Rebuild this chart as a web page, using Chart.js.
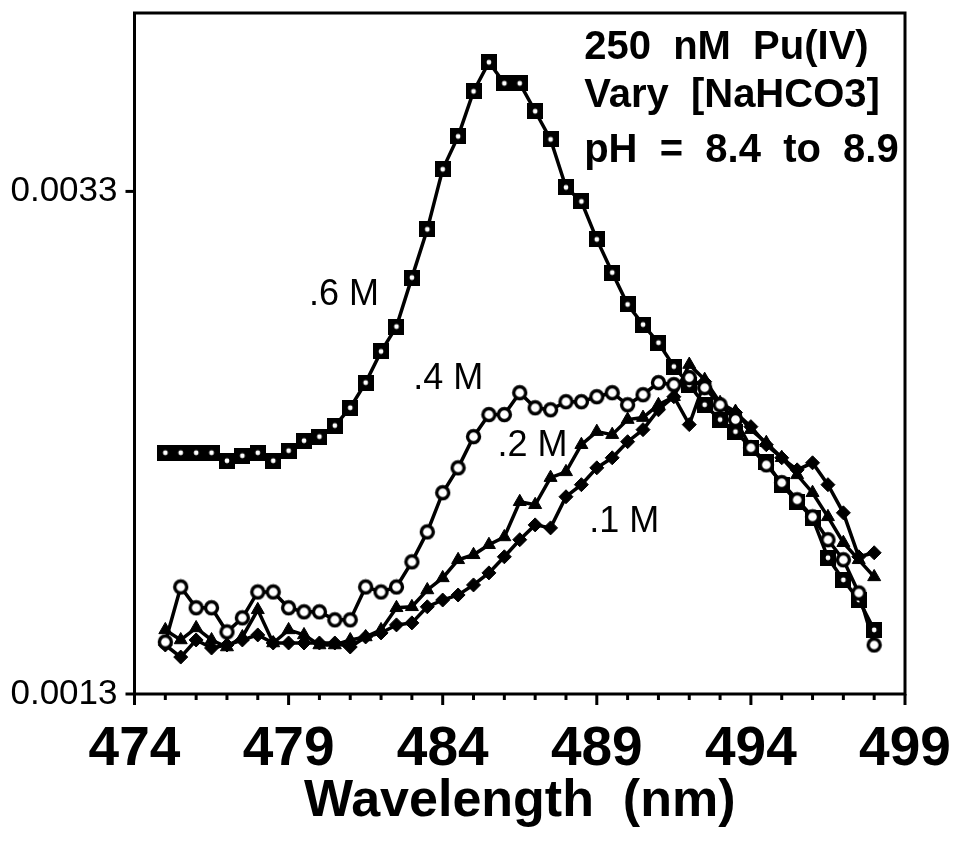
<!DOCTYPE html>
<html>
<head>
<meta charset="utf-8">
<script src="https://cdn.jsdelivr.net/npm/chart.js@4.4.1/dist/chart.umd.min.js"></script>
<style>
  html, body { margin: 0; padding: 0; background: #fff; }
  #chart { display: block; }
</style>
</head>
<body>
<canvas id="chart" width="953" height="841"></canvas>
<script>
// wavelength grid (nm)
const wavelengths = [475, 475.5, 476, 476.5, 477, 477.5, 478, 478.5, 479, 479.5,
    480, 480.5, 481, 481.5, 482, 482.5, 483, 483.5, 484, 484.5,
    485, 485.5, 486, 486.5, 487, 487.5, 488, 488.5, 489, 489.5,
    490, 490.5, 491, 491.5, 492, 492.5, 493, 493.5, 494, 494.5,
    495, 495.5, 496, 496.5, 497, 497.5, 498];

// absorbance for each NaHCO3 concentration
const naHCO3_06 = [0.002260, 0.002260, 0.002260, 0.002260, 0.002228, 0.002248, 0.002260, 0.002228, 0.002268, 0.002308,
    0.002324, 0.002368, 0.002439, 0.002539, 0.002663, 0.002762, 0.002957, 0.003149, 0.003388, 0.003519,
    0.003698, 0.003814, 0.003730, 0.003730, 0.003619, 0.003507, 0.003316, 0.003260, 0.003109, 0.002977,
    0.002850, 0.002770, 0.002698, 0.002603, 0.002531, 0.002451, 0.002392, 0.002344, 0.002280, 0.002224,
    0.002133, 0.002065, 0.002001, 0.001842, 0.001754, 0.001674, 0.001555];
const naHCO3_04 = [0.001507, 0.001726, 0.001643, 0.001643, 0.001547, 0.001603, 0.001706, 0.001706, 0.001643, 0.001627,
    0.001627, 0.001595, 0.001595, 0.001726, 0.001706, 0.001726, 0.001826, 0.001945, 0.002101, 0.002200,
    0.002324, 0.002412, 0.002412, 0.002499, 0.002439, 0.002431, 0.002463, 0.002463, 0.002483, 0.002499,
    0.002451, 0.002491, 0.002539, 0.002531, 0.002559, 0.002519, 0.002451, 0.002392, 0.002280, 0.002212,
    0.002141, 0.002073, 0.002005, 0.001914, 0.001834, 0.001702, 0.001495];
const naHCO3_02 = [0.001555, 0.001515, 0.001563, 0.001515, 0.001487, 0.001527, 0.001635, 0.001503, 0.001555, 0.001535,
    0.001495, 0.001495, 0.001515, 0.001527, 0.001555, 0.001643, 0.001647, 0.001714, 0.001762, 0.001834,
    0.001854, 0.001894, 0.001925, 0.002065, 0.002053, 0.002161, 0.002184, 0.002292, 0.002344, 0.002332,
    0.002392, 0.002400, 0.002451, 0.002483, 0.002611, 0.002551, 0.002459, 0.002424, 0.002352, 0.002300,
    0.002240, 0.002172, 0.002101, 0.002005, 0.001902, 0.001834, 0.001766];
const naHCO3_01 = [0.001495, 0.001447, 0.001515, 0.001483, 0.001495, 0.001515, 0.001535, 0.001503, 0.001503, 0.001503,
    0.001503, 0.001503, 0.001487, 0.001527, 0.001543, 0.001575, 0.001583, 0.001647, 0.001674, 0.001694,
    0.001734, 0.001782, 0.001846, 0.001914, 0.001973, 0.001961, 0.002085, 0.002133, 0.002200, 0.002240,
    0.002304, 0.002352, 0.002431, 0.002483, 0.002372, 0.002543, 0.002451, 0.002420, 0.002364, 0.002292,
    0.002240, 0.002192, 0.002220, 0.002133, 0.002021, 0.001846, 0.001862];

const xTickLabels = [474, 479, 484, 489, 494, 499];
const yTickLabels = [0.0013, 0.0033];
const seriesLabels = [".6 M", ".4 M", ".2 M", ".1 M"];
const noteLines = ["250  nM  Pu(IV)", "Vary  [NaHCO3]", "pH  =  8.4  to  8.9"];

const FONT = "'Liberation Sans', Arial, Helvetica, sans-serif";

// marker images
function squareMarker() {
    const c = document.createElement("canvas");
    c.width = 16; c.height = 16;
    const g = c.getContext("2d");
    g.fillStyle = "#000";
    g.fillRect(0, 0, 16, 16);
    g.fillStyle = "#fff";
    g.beginPath(); g.arc(8, 8, 2.4, 0, Math.PI * 2); g.fill();
    return c;
}
function circleMarker() {
    const c = document.createElement("canvas");
    c.width = 17; c.height = 17;
    const g = c.getContext("2d");
    g.fillStyle = "#fff";
    g.strokeStyle = "#000";
    g.lineWidth = 3.4;
    g.beginPath(); g.arc(8.5, 8.5, 6, 0, Math.PI * 2); g.fill(); g.stroke();
    return c;
}

function pts(arr) {
    return arr.map((v, i) => ({ x: wavelengths[i], y: v }));
}

function series(label, values, style, radius) {
    return {
        label: label,
        data: pts(values),
        borderColor: "#000",
        borderWidth: 3.5,
        backgroundColor: "#000",
        pointBackgroundColor: "#000",
        pointBorderColor: "#000",
        pointBorderWidth: 1,
        pointStyle: style,
        pointRadius: radius,
        tension: 0,
        clip: false
    };
}

// frame, tick marks and text notes
const decorations = {
    id: "decorations",
    afterDraw(chart) {
        const ctx = chart.ctx;
        const a = chart.chartArea;
        const xs = chart.scales.x, ys = chart.scales.y;
        ctx.save();
        ctx.strokeStyle = "#000";
        ctx.lineWidth = 3;
        ctx.strokeRect(a.left, a.top, a.right - a.left, a.bottom - a.top);

        for (let w = 474; w <= 499; w++) {
            const px = xs.getPixelForValue(w);
            const len = xTickLabels.includes(w) ? 11 : 6;
            ctx.beginPath();
            ctx.moveTo(px, a.bottom);
            ctx.lineTo(px, a.bottom + len);
            ctx.stroke();
        }
        yTickLabels.forEach(v => {
            const py = ys.getPixelForValue(v);
            ctx.beginPath();
            ctx.moveTo(a.left, py);
            ctx.lineTo(a.left - 9, py);
            ctx.stroke();
        });

        ctx.fillStyle = "#000";
        ctx.textBaseline = "middle";
        ctx.textAlign = "center";
        ctx.font = "36px " + FONT;
        const labelPos = [[480.8, 0.002886], [484.18, 0.002555], [486.91, 0.002288], [489.89, 0.001985]];
        seriesLabels.forEach((t, i) => {
            ctx.fillText(t, xs.getPixelForValue(labelPos[i][0]), ys.getPixelForValue(labelPos[i][1]));
        });

        ctx.textAlign = "left";
        ctx.font = "bold 40px " + FONT;
        const noteY = [0.003870, 0.003680, 0.003462];
        noteLines.forEach((t, i) => {
            ctx.fillText(t, xs.getPixelForValue(488.59), ys.getPixelForValue(noteY[i]));
        });
        ctx.restore();
    }
};

new Chart(document.getElementById("chart"), {
    type: "line",
    data: {
        datasets: [
            series(".4 M", naHCO3_04, circleMarker(), 8.5),
            series(".6 M", naHCO3_06, squareMarker(), 8),
            series(".2 M", naHCO3_02, "triangle", 7.5),
            series(".1 M", naHCO3_01, "rectRot", 7)
        ]
    },
    options: {
        responsive: false,
        animation: false,
        devicePixelRatio: 1,
        layout: { padding: { left: 0, top: 13, right: 48, bottom: 0 } },
        plugins: { legend: { display: false }, tooltip: { enabled: false } },
        scales: {
            x: {
                type: "linear",
                min: 474,
                max: 499,
                grid: { display: false, drawTicks: false },
                border: { display: false },
                afterBuildTicks: s => { s.ticks = xTickLabels.map(v => ({ value: v })); },
                afterFit: s => { s.height = 147; s.paddingLeft = 0; s.paddingRight = 0; },
                ticks: {
                    color: "#000",
                    padding: 23,
                    maxRotation: 0,
                    autoSkip: false,
                    font: { family: FONT, size: 55, weight: "bold" },
                    callback: v => String(v)
                },
                title: {
                    display: true,
                    text: "Wavelength  (nm)",
                    color: "#000",
                    font: { family: FONT, size: 52, weight: "bold" },
                    padding: { top: 0, bottom: 8 }
                }
            },
            y: {
                type: "linear",
                min: 0.0013,
                max: 0.00401,
                grid: { display: false, drawTicks: false },
                border: { display: false },
                afterBuildTicks: s => { s.ticks = yTickLabels.map(v => ({ value: v })); },
                afterFit: s => { s.width = 134.5; s.paddingTop = 0; s.paddingBottom = 0; },
                ticks: {
                    color: "#000",
                    padding: 17,
                    font: { family: FONT, size: 35 },
                    callback: v => v.toFixed(4)
                }
            }
        }
    },
    plugins: [decorations]
});
</script>
</body>
</html>
